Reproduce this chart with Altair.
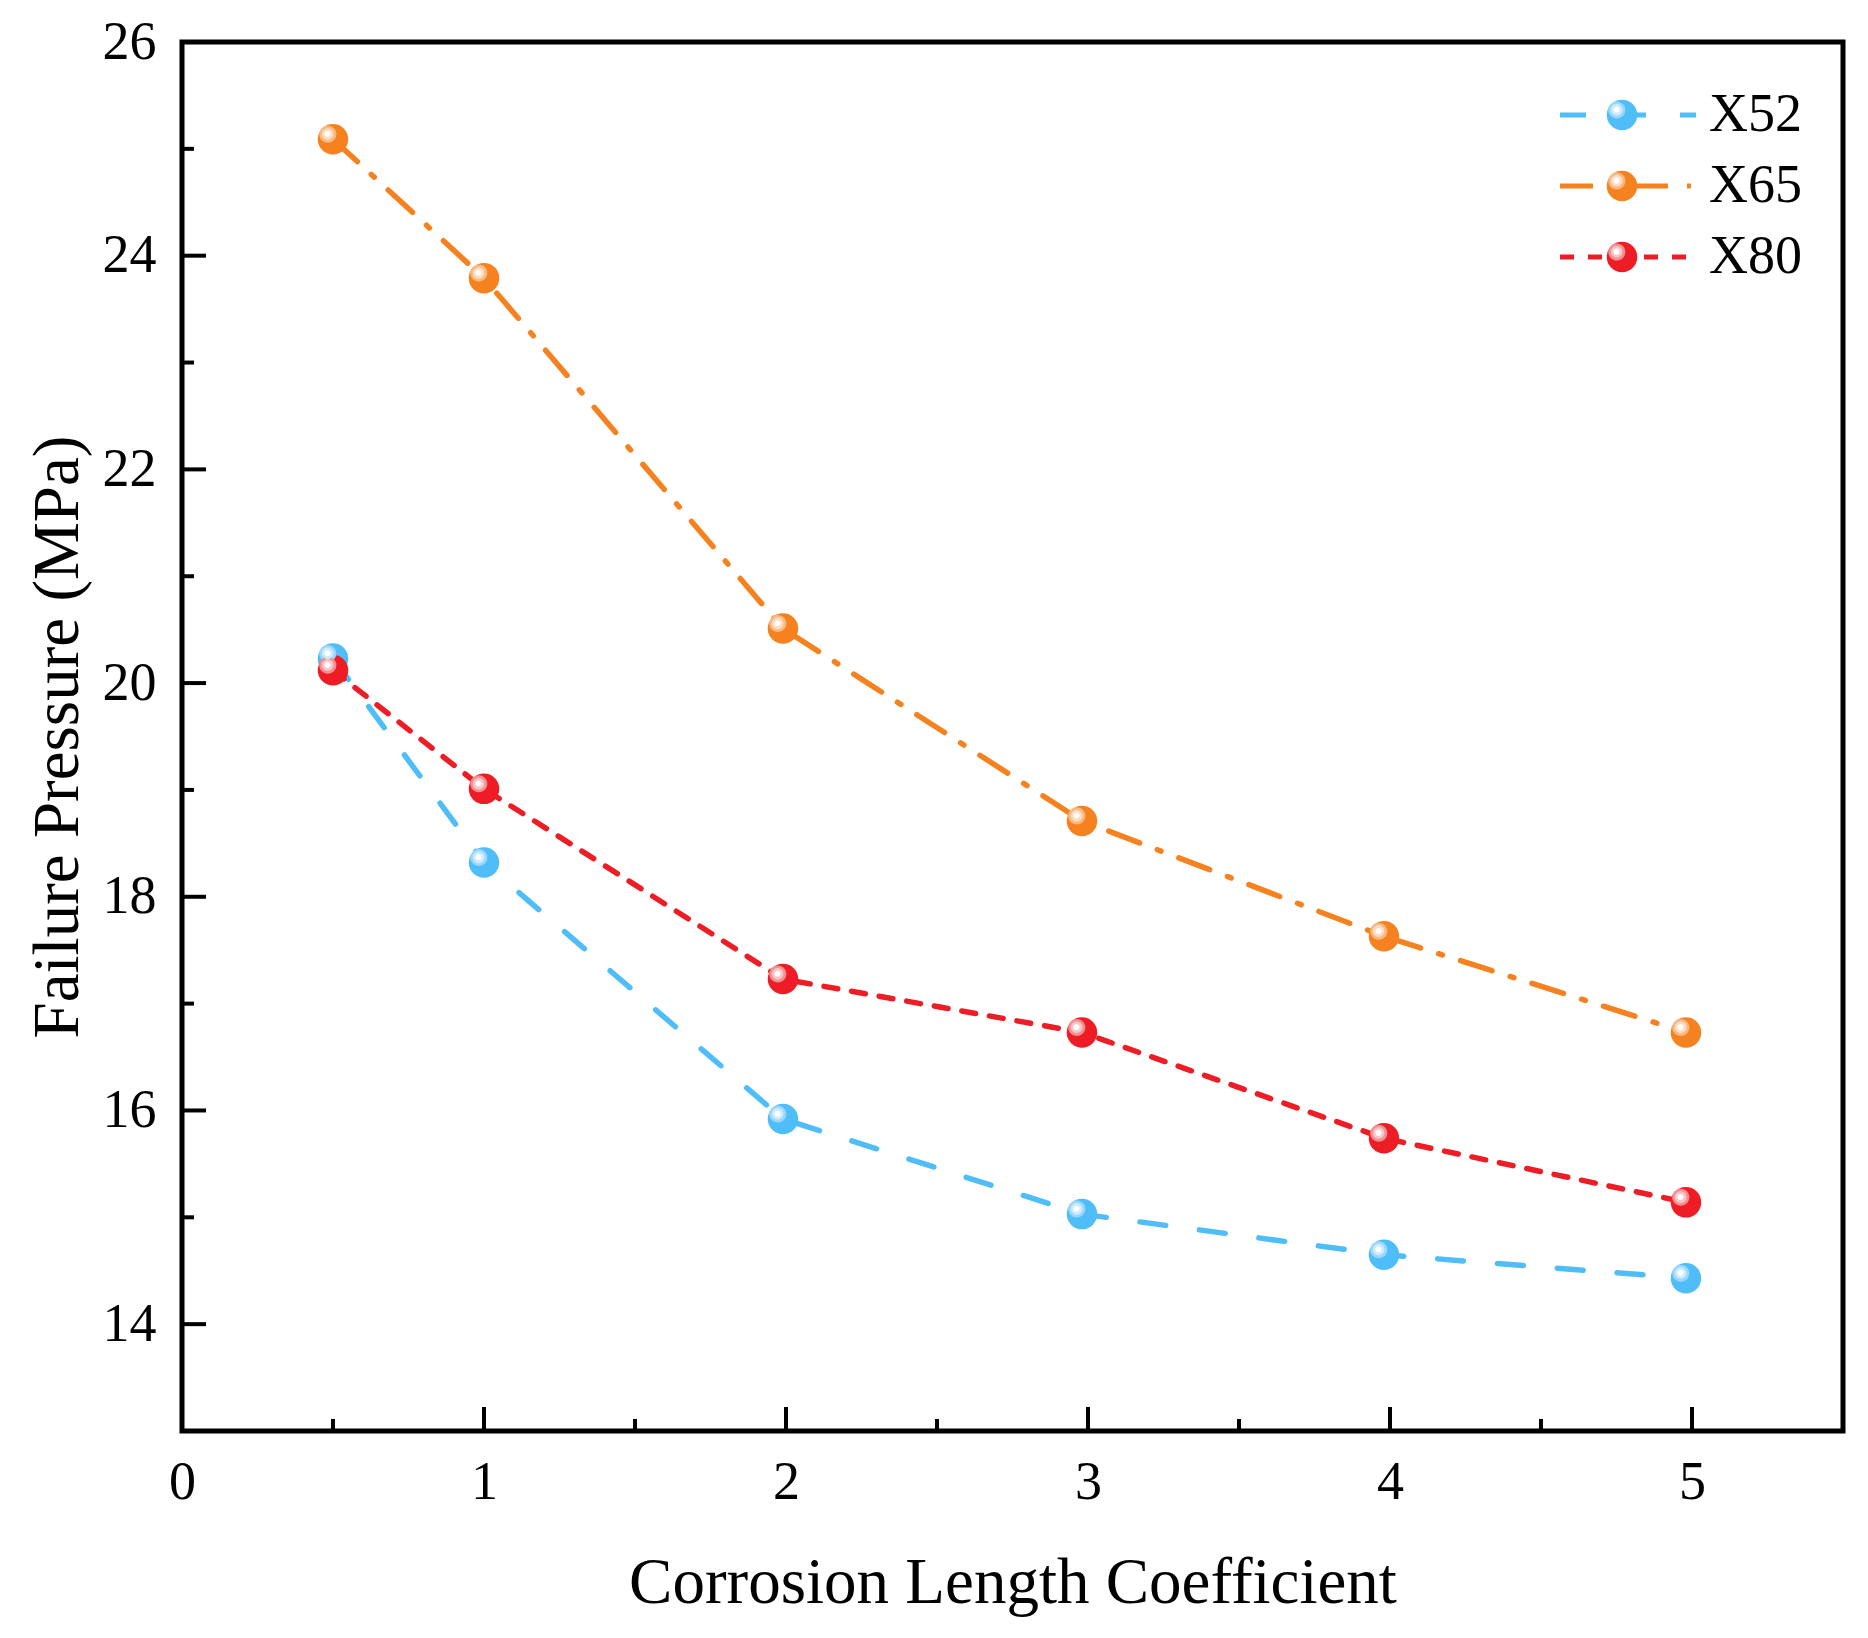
import altair as alt
import pandas as pd

# ---------------- data ----------------
series = ["X52", "X65", "X80"]
coef = [0.5, 1.0, 1.99, 2.98, 3.98, 4.98]
x52 = [20.23, 18.32, 15.92, 15.03, 14.65, 14.43]
x65 = [25.09, 23.79, 20.51, 18.71, 17.63, 16.73]
x80 = [20.12, 19.01, 17.23, 16.73, 15.74, 15.14]

x_major = [0, 1, 2, 3, 4, 5]
x_minor = [0.5, 1.5, 2.5, 3.5, 4.5]
y_major = [14, 16, 18, 20, 22, 24, 26]
y_minor = [15, 17, 19, 21, 23, 25]

# ---------------- style ----------------
colors = ["#4EBDF8", "#F5821F", "#EE1D25"]
ring1 = ["#9AD8FB", "#F9B983", "#F48F92"]
ring2 = ["#CDEBFD", "#FCDCC0", "#F9C6C8"]
core = ["#FFFFFF", "#FFFFFF", "#FFFFFF"]
dashes = [[26, 34], [33, 19, 4, 19], [14, 14]]
FONT = "Liberation Serif"
W, H = 1661, 1389
BALL = 930


def circle_path(cx, cy, r):
    k = 0.5523 * r
    f = lambda v: f"{v:.4f}"
    return (f"M{f(cx + r)},{f(cy)} C{f(cx + r)},{f(cy + k)} {f(cx + k)},{f(cy + r)} {f(cx)},{f(cy + r)} "
            f"C{f(cx - k)},{f(cy + r)} {f(cx - r)},{f(cy + k)} {f(cx - r)},{f(cy)} "
            f"C{f(cx - r)},{f(cy - k)} {f(cx - k)},{f(cy - r)} {f(cx)},{f(cy - r)} "
            f"C{f(cx + k)},{f(cy - r)} {f(cx + r)},{f(cy - k)} {f(cx + r)},{f(cy)} Z")


path_r1 = circle_path(-0.34, -0.33, 0.56)
path_r2 = circle_path(-0.35, -0.34, 0.38)
path_core = circle_path(-0.36, -0.35, 0.2)
# legend line symbol (unit = sqrt(BALL)/2 px): 62 px left, 74 px right of the ball
unit = BALL ** 0.5 / 2
path_line = f"M{-62 / unit:.4f},0 L{74 / unit:.4f},0"

rows = []
for s, vals in zip(series, [x52, x65, x80]):
    for c, v in zip(coef, vals):
        rows.append({"Coef": c, "Pressure": v, "Series": s,
                     "SB": s, "SC": s, "SD": s, "SE": s})
df = pd.DataFrame(rows)

xscale = alt.Scale(domain=[0, 5.5], nice=False, zero=False)
yscale = alt.Scale(domain=[13, 26], nice=False, zero=False)

xaxis = alt.Axis(values=x_major, format="d", grid=False, ticks=False, domain=False,
                 labelFlush=False, labelOverlap=False,
                 labelFont=FONT, labelFontSize=54, labelColor="black", labelPadding=24,
                 title="Corrosion Length Coefficient", titleFont=FONT, titleFontSize=65,
                 titleFontWeight="normal", titleColor="black", titleX=W / 2, titleY=151,
                 titleAlign="center", titleBaseline="middle")
yaxis = alt.Axis(values=y_major, format="d", grid=False, ticks=False, domain=False,
                 labelFlush=False, labelOverlap=False,
                 labelFont=FONT, labelFontSize=54, labelColor="black", labelPadding=26,
                 title="Failure Pressure (MPa)", titleFont=FONT, titleFontSize=65,
                 titleFontWeight="normal", titleColor="black", titleX=-125, titleY=H / 2,
                 titleAngle=270, titleAlign="center", titleBaseline="middle")

X = alt.X("Coef:Q", scale=xscale, axis=xaxis)
Y = alt.Y("Pressure:Q", scale=yscale, axis=yaxis)

LX, LY = 1413, 46
ROWPAD = 17
LOFF = 60


def make_legend(shape, stroke_color=None, label_opacity=1):
    kw = dict(orient="none", legendX=LX, legendY=LY, title=None, padding=0,
              symbolType=shape, symbolSize=BALL, symbolStrokeWidth=5,
              labelFont=FONT, labelFontSize=54, labelColor="black",
              labelOpacity=label_opacity, labelOffset=LOFF, rowPadding=ROWPAD)
    if stroke_color is not None:
        kw["symbolStrokeColor"] = stroke_color
    return alt.Legend(**kw)


line_legend = make_legend(path_line)

lines = alt.Chart(df).mark_line(strokeWidth=5.5, strokeCap="round").encode(
    x=X, y=Y,
    stroke=alt.Stroke("Series:N", scale=alt.Scale(domain=series, range=colors), legend=line_legend),
    strokeDash=alt.StrokeDash("Series:N", scale=alt.Scale(domain=series, range=dashes), legend=line_legend),
)

xmaj = alt.Chart(pd.DataFrame({"Coef": x_major})).mark_rule(color="black", strokeWidth=4).encode(
    x=X, y=alt.value(H), y2=alt.value(H - 24))
xmin = alt.Chart(pd.DataFrame({"Coef": x_minor})).mark_rule(color="black", strokeWidth=4).encode(
    x=X, y=alt.value(H), y2=alt.value(H - 12))
ymaj = alt.Chart(pd.DataFrame({"Pressure": y_major})).mark_rule(color="black", strokeWidth=4).encode(
    y=Y, x=alt.value(0), x2=alt.value(24))
ymin = alt.Chart(pd.DataFrame({"Pressure": y_minor})).mark_rule(color="black", strokeWidth=4).encode(
    y=Y, x=alt.value(0), x2=alt.value(12))


def ball_layer(field, shape, rng):
    return alt.Chart(df).mark_point(shape=shape, filled=True, size=BALL, opacity=1,
                                    strokeWidth=0).encode(
        x=X, y=Y,
        fill=alt.Fill(f"{field}:N", scale=alt.Scale(domain=series, range=rng),
                      legend=make_legend(shape, stroke_color="transparent", label_opacity=0)))


base = ball_layer("SB", "circle", colors)
r1 = ball_layer("SC", path_r1, ring1)
r2 = ball_layer("SD", path_r2, ring2)
cr = ball_layer("SE", path_core, core)

chart = alt.layer(lines, xmaj, xmin, ymaj, ymin, base, r1, r2, cr).resolve_scale(
    fill="independent"
).properties(
    width=W, height=H,
    autosize=alt.AutoSizeParams(type="none"),
    padding={"left": 182, "top": 42, "right": 25, "bottom": 207},
    background="white",
).configure_view(stroke="black", strokeWidth=5)

chart.save("out.html", embed_options={"renderer": "svg", "actions": False})
